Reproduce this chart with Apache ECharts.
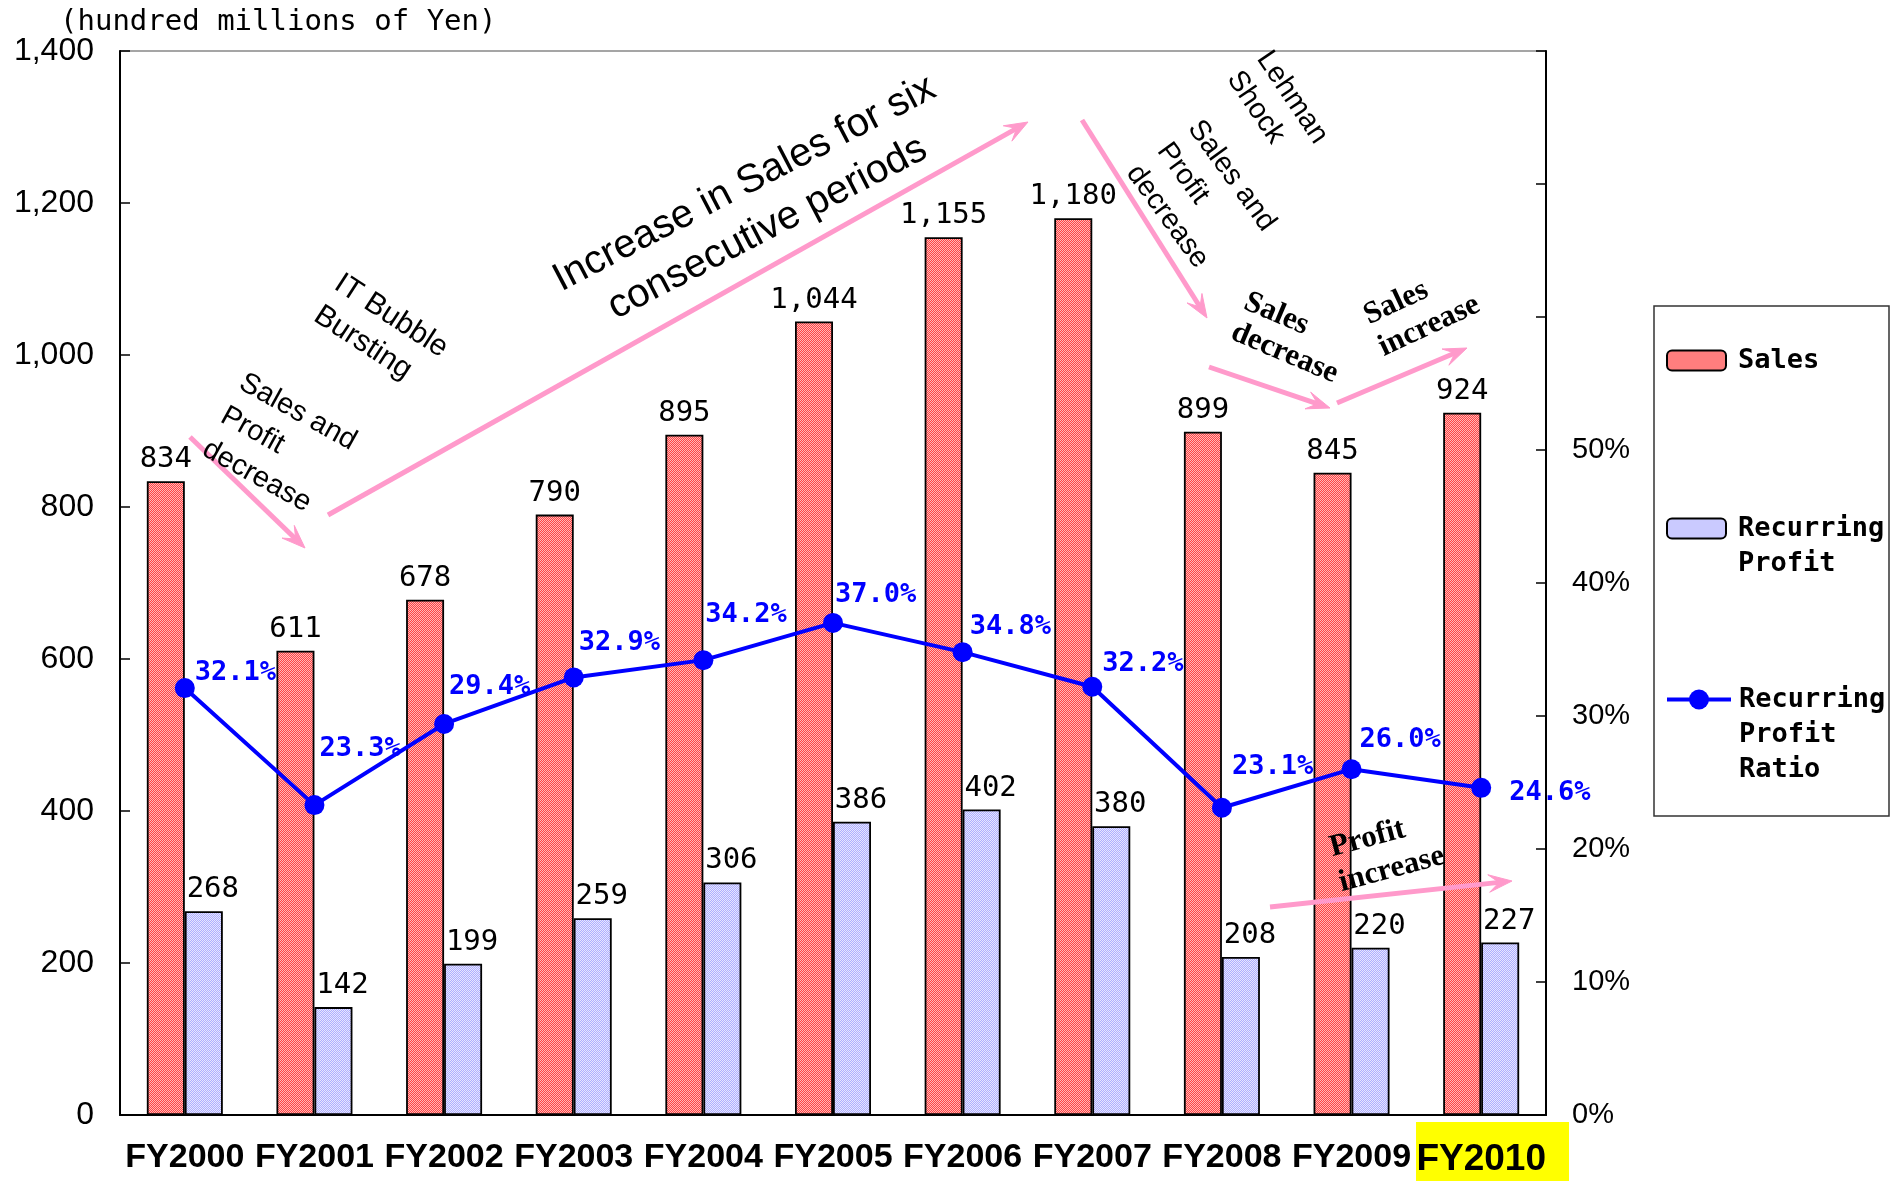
<!DOCTYPE html>
<html>
<head>
<meta charset="utf-8">
<script src="https://cdn.jsdelivr.net/npm/echarts@6/dist/echarts.min.js"></script>
<style>
  html, body { margin: 0; padding: 0; background: #ffffff; }
  #chart { width: 1897px; height: 1181px; }
</style>
</head>
<body>
<div id="chart"></div>
<script>
// ---- data ----
const categories = ['FY2000', 'FY2001', 'FY2002', 'FY2003', 'FY2004', 'FY2005',
                    'FY2006', 'FY2007', 'FY2008', 'FY2009', 'FY2010'];
const sales = [834, 611, 678, 790, 895, 1044, 1155, 1180, 899, 845, 924];
const recurringProfit = [268, 142, 199, 259, 306, 386, 402, 380, 208, 220, 227];
const profitRatio = [32.1, 23.3, 29.4, 32.9, 34.2, 37.0, 34.8, 32.2, 23.1, 26.0, 24.6];
const unitLabel = '(hundred millions of Yen)';

// per-point nudges for the ratio labels so they clear the bars
const ratioLabelOffsets = [[0, -15], [-5, -56], [-5, -37], [-5, -34], [-8, -45], [-8, -28],
                           [-3, -25], [0, -23], [0, -41], [-2, -29], [18, 5]];

// ---- styling helpers ----
const PINK = '#FF9ACB';
const MONO = 'DejaVu Sans Mono';
const SANS = 'Liberation Sans, Arial, sans-serif';
const SERIF = 'Liberation Serif, Times New Roman, serif';

function checker(base, dot) {
  const cv = document.createElement('canvas');
  cv.width = 2; cv.height = 2;
  const g = cv.getContext('2d');
  g.fillStyle = base; g.fillRect(0, 0, 2, 2);
  g.fillStyle = dot; g.fillRect(0, 0, 1, 1); g.fillRect(1, 1, 1, 1);
  return { image: cv, repeat: 'repeat' };
}
const salesFill = checker('#FF4444', '#FFB8B8');
const profitFill = checker('#AEAEFF', '#E6E6FF');

function withCommas(v) {
  return String(v).replace(/\B(?=(\d{3})+(?!\d))/g, ',');
}

// pink annotation arrow: shaft + slim filled head
function arrow(x1, y1, x2, y2) {
  const a = Math.atan2(y2 - y1, x2 - x1);
  const L = 25, spread = 0.36, back = 13;
  const p1 = [x2 - L * Math.cos(a - spread), y2 - L * Math.sin(a - spread)];
  const p2 = [x2 - L * Math.cos(a + spread), y2 - L * Math.sin(a + spread)];
  const n = [x2 - back * Math.cos(a), y2 - back * Math.sin(a)];
  return [
    { type: 'line', z: 100, shape: { x1: x1, y1: y1, x2: n[0], y2: n[1] },
      style: { stroke: PINK, lineWidth: 5 } },
    { type: 'polygon', z: 100, shape: { points: [[x2, y2], p1, n, p2] },
      style: { fill: PINK, stroke: PINK, lineWidth: 1 } }
  ];
}

function note(text, x, y, deg, opts) {
  opts = opts || {};
  return {
    type: 'text', z: 101, x: x, y: y, rotation: deg * Math.PI / 180,
    style: {
      text: text, fill: '#000',
      fontFamily: opts.family || SANS,
      fontSize: opts.size || 29,
      fontWeight: opts.weight || 'normal',
      lineHeight: opts.lh || 38,
      align: opts.align || 'left',
      verticalAlign: 'middle'
    }
  };
}

const annotationArrows = [
  [190, 437, 305, 548],
  [328, 515, 1028, 122],
  [1082, 120, 1207, 318],
  [1209, 367, 1330, 408],
  [1337, 403, 1467, 348],
  [1270, 907, 1512, 881]
];

const annotationTexts = [
  note('Sales and\nProfit\ndecrease', 223, 414, -29),
  note('IT Bubble\nBursting', 327, 297, -33, { size: 30 }),
  note('Increase in Sales for six\nconsecutive periods', 756, 206, 27.5,
       { size: 40, lh: 50, align: 'center' }),
  note('Lehman\nShock', 1248, 64, -56, { lh: 36 }),
  note('Sales and\nProfit\ndecrease', 1163, 146, -54),
  note('Sales\ndecrease', 1239, 316, -23, { family: SERIF, weight: 'bold', size: 31, lh: 33 }),
  note('Sales\nincrease', 1373, 333, 25, { family: SERIF, weight: 'bold', size: 31, lh: 35 }),
  note('Profit\nincrease', 1335, 866, 15, { family: SERIF, weight: 'bold', size: 31, lh: 36 })
];

const graphics = [];
// unit caption above the left axis
graphics.push({ type: 'text', x: 60, y: 8, z: 10,
  style: { text: unitLabel, fill: '#000', fontFamily: MONO, fontSize: 29,
           align: 'left', verticalAlign: 'top' } });
annotationArrows.forEach(a => graphics.push(...arrow(a[0], a[1], a[2], a[3])));
graphics.push(...annotationTexts);
// legend frame
graphics.push({ type: 'rect', z: 50, shape: { x: 1654, y: 306, width: 235, height: 510 },
  style: { fill: 'none', stroke: '#333', lineWidth: 1.5 } });
// highlight behind the latest fiscal year label
graphics.push({ type: 'rect', z: -1, shape: { x: 1416, y: 1122, width: 153, height: 59 },
  style: { fill: '#FFFF00' } });

// Legend entries: each one is its own legend so the swatch can sit beside the
// first line of a wrapped name; leading blank lines keep that first line level
// with the swatch when the block is centred on it.
const legendText = { fontFamily: MONO, fontWeight: 'bold', fontSize: 27, color: '#000', lineHeight: 35 };
function legendFor(name, top, opts) {
  opts = opts || {};
  return {
    orient: 'vertical', left: opts.left || 1666, top: top, padding: 0, itemGap: 0,
    itemWidth: opts.w || 59, itemHeight: opts.h || 20, selectedMode: false,
    data: [name],
    textStyle: Object.assign({}, legendText, { padding: [0, 0, 0, opts.gap || 7] }),
    lineStyle: { width: 4, color: '#0000FF' },
    formatter: n => {
      const parts = n.split(' ');
      return '\n'.repeat(parts.length - 1) + parts.join('\n');
    }
  };
}

const chart = echarts.init(document.getElementById('chart'), null, { renderer: 'canvas' });
chart.setOption({
  backgroundColor: '#ffffff',
  animation: false,
  grid: {
    left: 120, right: 351, top: 51, bottom: 66,
    show: true, borderColor: '#888888', borderWidth: 1.5, backgroundColor: 'transparent'
  },
  legend: [
    legendFor('Sales', 343),
    legendFor('Recurring Profit', 476),
    legendFor('Recurring Profit Ratio', 612, { left: 1665, w: 64, h: 25, gap: 3 })
  ],
  xAxis: {
    type: 'category', data: categories, boundaryGap: true,
    axisLine: { lineStyle: { color: '#000', width: 2 } },
    axisTick: { inside: true, length: 10, lineStyle: { color: '#000', width: 1.5 } },
    axisLabel: {
      interval: 0, margin: 26, color: '#000',
      fontFamily: SANS, fontWeight: 'bold', fontSize: 34,
      formatter: (v, i) => i === categories.length - 1 ? '{hl|' + v + '}' : v,
      rich: { hl: { fontFamily: SANS, fontWeight: 'bold', fontSize: 37, color: '#000' } }
    }
  },
  yAxis: [
    {
      type: 'value', min: 0, max: 1400, interval: 200, position: 'left',
      axisLine: { show: true, lineStyle: { color: '#000', width: 2 } },
      axisTick: { show: true, inside: true, length: 10, lineStyle: { color: '#000', width: 1.5 } },
      axisLabel: { margin: 26, color: '#000', fontFamily: SANS, fontSize: 32, formatter: withCommas },
      splitLine: { show: false }
    },
    {
      type: 'value', min: 0, max: 80, interval: 10, position: 'right',
      axisLine: { show: true, lineStyle: { color: '#000', width: 2 } },
      axisTick: { show: true, inside: true, length: 10, lineStyle: { color: '#000', width: 1.5 } },
      axisLabel: { margin: 26, color: '#000', fontFamily: SANS, fontSize: 29,
                   formatter: v => (v <= 50 ? v + '%' : '') },
      splitLine: { show: false }
    }
  ],
  series: [
    {
      name: 'Sales', type: 'bar', yAxisIndex: 0, data: sales,
      barWidth: 38, barGap: '0%',
      itemStyle: { color: salesFill, borderColor: '#000', borderWidth: 1.8 },
      label: { show: true, position: 'top', distance: 7, color: '#000',
               fontFamily: MONO, fontSize: 29, formatter: p => withCommas(p.value) }
    },
    {
      name: 'Recurring Profit', type: 'bar', yAxisIndex: 0, data: recurringProfit,
      barWidth: 38, barGap: '0%',
      itemStyle: { color: profitFill, borderColor: '#000', borderWidth: 1.8 },
      label: { show: true, position: 'top', distance: 7, offset: [9, 0], color: '#000',
               fontFamily: MONO, fontSize: 29, formatter: p => withCommas(p.value) }
    },
    {
      name: 'Recurring Profit Ratio', type: 'line', yAxisIndex: 1,
      data: profitRatio.map((v, i) => ({ value: v, label: { offset: ratioLabelOffsets[i] } })),
      symbol: 'circle', symbolSize: 20,
      lineStyle: { color: '#0000FF', width: 4 },
      itemStyle: { color: '#0000FF' },
      label: { show: true, position: 'right', distance: 0, align: 'left', verticalAlign: 'middle',
               color: '#0000FF', fontFamily: MONO, fontWeight: 'bold', fontSize: 27,
               formatter: p => p.value.toFixed(1) + '%' }
    }
  ],
  graphic: graphics
});
</script>
</body>
</html>
